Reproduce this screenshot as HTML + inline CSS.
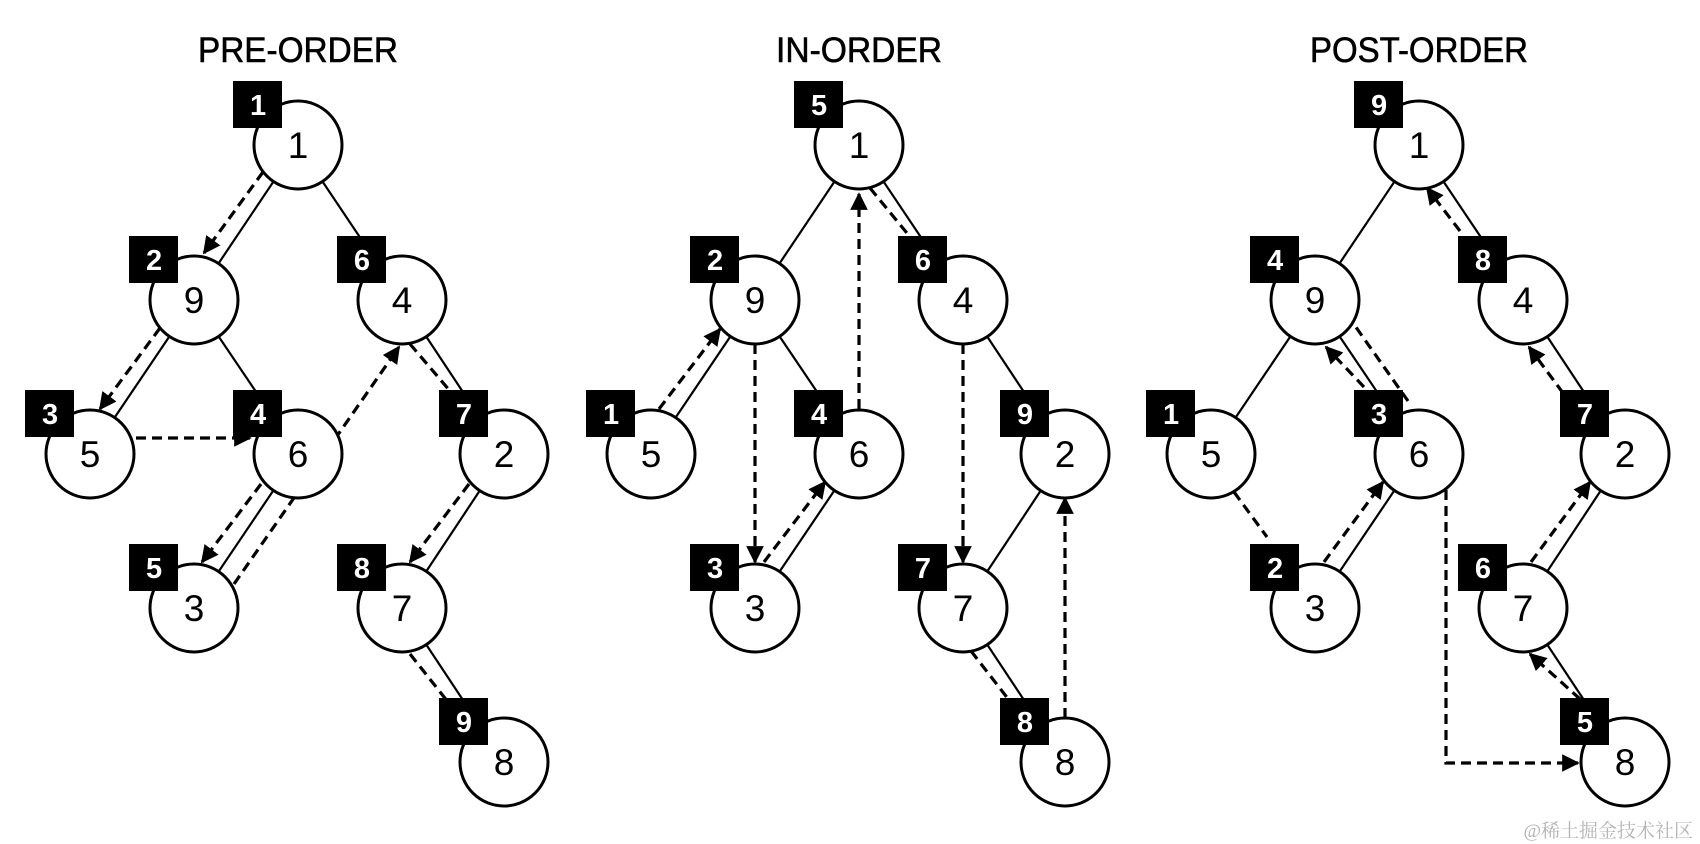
<!DOCTYPE html>
<html><head><meta charset="utf-8"><style>
html,body{margin:0;padding:0;background:#fff;}
svg{display:block;}
.e{stroke:#000;stroke-width:2.2;fill:none}
.d{stroke:#000;stroke-width:3.2;stroke-dasharray:10 6;fill:none}
.da{stroke:#000;stroke-width:3.2;stroke-dasharray:10 6;fill:none;marker-end:url(#ah)}
.c{fill:#fff;stroke:#000;stroke-width:3}
.n{font-family:"Liberation Sans",sans-serif;font-size:37px;text-anchor:middle;fill:#000}
.b{font-family:"Liberation Sans",sans-serif;font-size:29px;font-weight:bold;text-anchor:middle;fill:#fff}
.t{font-family:"Liberation Sans",sans-serif;font-size:35px;text-anchor:middle;fill:#000;stroke:#000;stroke-width:0.6}
</style></head><body>
<svg width="1700" height="844" viewBox="0 0 1700 844" xmlns="http://www.w3.org/2000/svg">
<defs>
<marker id="ah" viewBox="0 0 10 10" refX="9" refY="5" markerWidth="5.5" markerHeight="5.5" orient="auto" markerUnits="strokeWidth">
<path d="M0,0 L10,5 L0,10 z" fill="#000"/>
</marker>
<g id="edges">
<line class="e" x1="0" y1="145" x2="-104" y2="300"/>
<line class="e" x1="0" y1="145" x2="104" y2="300"/>
<line class="e" x1="-104" y1="300" x2="-208" y2="454"/>
<line class="e" x1="-104" y1="300" x2="0" y2="454"/>
<line class="e" x1="104" y1="300" x2="206" y2="454"/>
<line class="e" x1="0" y1="454" x2="-104" y2="608"/>
<line class="e" x1="206" y1="454" x2="104" y2="608"/>
<line class="e" x1="104" y1="608" x2="206" y2="762"/>
</g>
<g id="circ">
<circle class="c" cx="0" cy="145" r="44"/>
<circle class="c" cx="-104" cy="300" r="44"/>
<circle class="c" cx="104" cy="300" r="44"/>
<circle class="c" cx="-208" cy="454" r="44"/>
<circle class="c" cx="0" cy="454" r="44"/>
<circle class="c" cx="206" cy="454" r="44"/>
<circle class="c" cx="-104" cy="608" r="44"/>
<circle class="c" cx="104" cy="608" r="44"/>
<circle class="c" cx="206" cy="762" r="44"/>
<text class="n" x="0" y="158">1</text>
<text class="n" x="-104" y="313">9</text>
<text class="n" x="104" y="313">4</text>
<text class="n" x="-208" y="467">5</text>
<text class="n" x="0" y="467">6</text>
<text class="n" x="206" y="467">2</text>
<text class="n" x="-104" y="621">3</text>
<text class="n" x="104" y="621">7</text>
<text class="n" x="206" y="775">8</text>
</g>
<g id="boxes">
<rect x="-65" y="81" width="49" height="47"/>
<rect x="-169" y="236" width="49" height="47"/>
<rect x="39" y="236" width="49" height="47"/>
<rect x="-273" y="390" width="49" height="47"/>
<rect x="-65" y="390" width="49" height="47"/>
<rect x="141" y="390" width="49" height="47"/>
<rect x="-169" y="544" width="49" height="47"/>
<rect x="39" y="544" width="49" height="47"/>
<rect x="141" y="698" width="49" height="47"/>
</g>
</defs>

<!-- PRE-ORDER -->
<g transform="translate(298,0)">
<text class="t" x="0" y="62" textLength="200" lengthAdjust="spacingAndGlyphs">PRE-ORDER</text>
<use href="#edges"/>
<line class="da" x1="-35" y1="172" x2="-94" y2="253"/>
<line class="da" x1="-138" y1="328" x2="-198" y2="409"/>
<line class="da" x1="-162" y1="438" x2="-48" y2="438"/>
<line class="da" x1="-37" y1="484" x2="-96" y2="562"/>
<line class="da" x1="-64" y1="584" x2="101" y2="347"/>
<line class="d" x1="112" y1="344" x2="158" y2="398"/>
<line class="da" x1="171" y1="484" x2="112" y2="562"/>
<line class="d" x1="112" y1="654" x2="150" y2="702"/>
<use href="#circ"/>
<use href="#boxes"/>
<text class="b" x="-40" y="115">1</text>
<text class="b" x="-144" y="270">2</text>
<text class="b" x="64" y="270">6</text>
<text class="b" x="-248" y="424">3</text>
<text class="b" x="-40" y="424">4</text>
<text class="b" x="166" y="424">7</text>
<text class="b" x="-144" y="578">5</text>
<text class="b" x="64" y="578">8</text>
<text class="b" x="166" y="732">9</text>
</g>

<!-- IN-ORDER -->
<g transform="translate(859,0)">
<text class="t" x="0" y="62" textLength="166" lengthAdjust="spacingAndGlyphs">IN-ORDER</text>
<use href="#edges"/>
<line class="da" x1="-200" y1="409" x2="-139" y2="329"/>
<line class="da" x1="-104" y1="344" x2="-104" y2="562"/>
<line class="da" x1="-95" y1="562" x2="-34" y2="482"/>
<line class="da" x1="0" y1="409" x2="0" y2="194"/>
<line class="d" x1="11" y1="188" x2="52" y2="238"/>
<line class="da" x1="104" y1="344" x2="104" y2="562"/>
<line class="d" x1="112" y1="651" x2="150" y2="700"/>
<line class="da" x1="206" y1="718" x2="206" y2="498"/>
<use href="#circ"/>
<use href="#boxes"/>
<text class="b" x="-40" y="115">5</text>
<text class="b" x="-144" y="270">2</text>
<text class="b" x="64" y="270">6</text>
<text class="b" x="-248" y="424">1</text>
<text class="b" x="-40" y="424">4</text>
<text class="b" x="166" y="424">9</text>
<text class="b" x="-144" y="578">3</text>
<text class="b" x="64" y="578">7</text>
<text class="b" x="166" y="732">8</text>
</g>

<!-- POST-ORDER -->
<g transform="translate(1419,0)">
<text class="t" x="0" y="62" textLength="218" lengthAdjust="spacingAndGlyphs">POST-ORDER</text>
<use href="#edges"/>
<line class="d" x1="-185" y1="492" x2="-152" y2="537"/>
<line class="da" x1="-95" y1="562" x2="-36" y2="482"/>
<line class="da" x1="-55" y1="387" x2="-93" y2="347"/>
<line class="d" x1="-11" y1="401" x2="-66" y2="323"/>
<polyline class="da" points="27,490 27,763 159,763"/>
<line class="da" x1="161" y1="699" x2="111" y2="654"/>
<line class="da" x1="112" y1="562" x2="171" y2="482"/>
<line class="da" x1="144" y1="393" x2="110" y2="347"/>
<line class="da" x1="41" y1="231" x2="8" y2="188"/>
<use href="#circ"/>
<use href="#boxes"/>
<text class="b" x="-40" y="115">9</text>
<text class="b" x="-144" y="270">4</text>
<text class="b" x="64" y="270">8</text>
<text class="b" x="-248" y="424">1</text>
<text class="b" x="-40" y="424">3</text>
<text class="b" x="166" y="424">7</text>
<text class="b" x="-144" y="578">2</text>
<text class="b" x="64" y="578">6</text>
<text class="b" x="166" y="732">5</text>
</g>

<text x="1693" y="837" text-anchor="end" fill="#b4b4b4" style="font-family:'Liberation Serif','Noto Serif CJK SC',serif;font-size:19px">@稀土掘金技术社区</text>
</svg>
</body></html>
